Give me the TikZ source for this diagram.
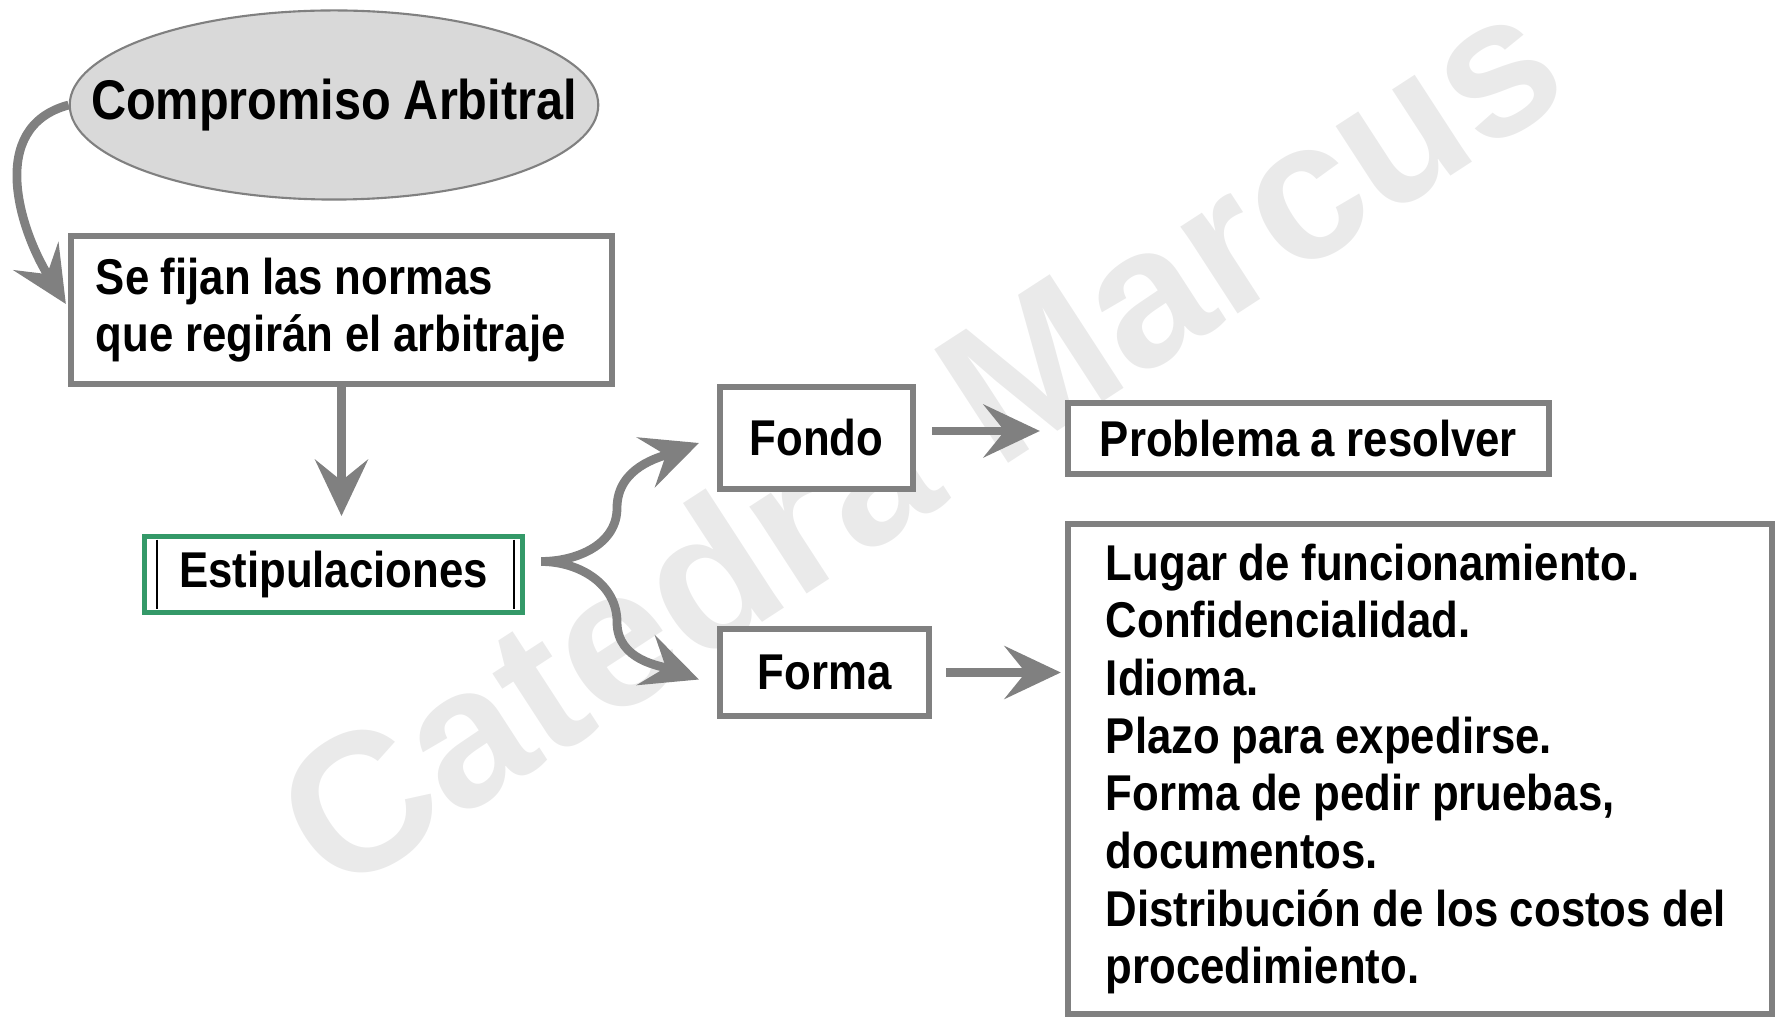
\documentclass[tikz,border=0pt]{standalone}
\usepackage{fontspec}
\usepackage{xcolor}
\usetikzlibrary{arrows.meta,shapes.geometric}
\newfontfamily\diagfont{Liberation Sans}[FakeStretch=0.87,WordSpace=0.95]
\newfontfamily\marcafont{Liberation Sans}
\definecolor{cajagris}{RGB}{128,128,128}
\definecolor{elipsegris}{RGB}{217,217,217}
\definecolor{verdecaja}{RGB}{52,153,104}
\definecolor{marcagris}{RGB}{234,234,234}

\tikzset{
  caja/.style={draw=cajagris,line width=1.7pt,fill=white,inner sep=0pt,
    font=\diagfont\bfseries\fontsize{14.3}{16.4}\selectfont},
  elipse/.style={ellipse,draw=cajagris,line width=0.6pt,fill=elipsegris,inner sep=0pt,
    font=\diagfont\bfseries\fontsize{15.9}{18}\selectfont},
  flecha/.style={cajagris,line width=2.5pt,-{Stealth[length=16pt,width=15pt,inset=6pt]}},
  marca/.style={font=\marcafont\bfseries\fontsize{56}{56}\selectfont,text=marcagris},
}

\begin{document}
\begin{tikzpicture}[x=0.01cm,y=0.01cm]
  \useasboundingbox (0,0) rectangle (1777,-1019);

  % Watermark
  \node[marca,rotate=33] (marca) at (918,-438) {Catedra Marcus};

  % Boxes
  \node[elipse,inner xsep=-0.56cm,minimum width=5.27cm,minimum height=1.89cm] (comp) at (334,-105) {Compromiso Arbitral};
  \node[caja,minimum height=1.48cm,text width=4.91cm,inner xsep=0.25cm,align=flush left] (normas) at (341.5,-310) {Se fijan las normas\\que regirán el arbitraje};
  \node[caja,draw=verdecaja,line width=1.4pt,minimum width=3.78cm,minimum height=0.76cm] (estip) at (333.5,-574.5) {Estipulaciones};
  \node[caja,minimum width=1.93cm,minimum height=1.02cm] (fondo) at (816.5,-438) {Fondo};
  \node[caja,minimum width=4.81cm,minimum height=0.71cm] (problema) at (1308.5,-438.5) {Problema a resolver};
  \node[caja,minimum width=2.09cm,minimum height=0.87cm] (forma) at (824.5,-672.5) {Forma};
  \node[caja,minimum height=4.90cm,text width=6.28cm,inner xsep=0.38cm,align=flush left] (lista) at (1420,-769) {Lugar de funcionamiento.\\Confidencialidad.\\Idioma.\\Plazo para expedirse.\\Forma de pedir pruebas,\\documentos.\\Distribución de los costos del\\procedimiento.};

  % Inner rules of the green box
  \draw[line width=0.6pt] ([xshift=0.155cm,yshift=-0.055cm]estip.north west) -- ([xshift=0.155cm,yshift=0.055cm]estip.south west);
  \draw[line width=0.6pt] ([xshift=-0.115cm,yshift=-0.055cm]estip.north east) -- ([xshift=-0.115cm,yshift=0.055cm]estip.south east);

  % Arrows
  \draw[flecha] (comp.west) to[out=195,in=122,looseness=1.1] ([xshift=-0.02cm,yshift=0.06cm]normas.west);
  \draw[flecha,shorten >=0.18cm] (normas.south) -- (normas.south |- estip.north);
  \coordinate (rama) at ([xshift=0.16cm,yshift=0.13cm]estip.east);
  \coordinate (arriba) at (617,-508);
  \coordinate (abajo) at (617,-622);
  \draw[flecha] (rama) to[out=0,in=-90] (arriba) to[out=90,in=200] ([xshift=-0.18cm,yshift=-0.05cm]fondo.west);
  \draw[flecha] (rama) to[out=0,in=90] (abajo) to[out=-90,in=160] ([xshift=-0.18cm,yshift=-0.07cm]forma.west);
  \draw[flecha,shorten <=0.16cm,shorten >=0.25cm] ([yshift=0.07cm]fondo.east) -- ([yshift=0.07cm]fondo.east -| problema.west);
  \draw[flecha,shorten <=0.14cm,shorten >=0.04cm] (forma.east) -- (forma.east -| lista.west);
\end{tikzpicture}
\end{document}
